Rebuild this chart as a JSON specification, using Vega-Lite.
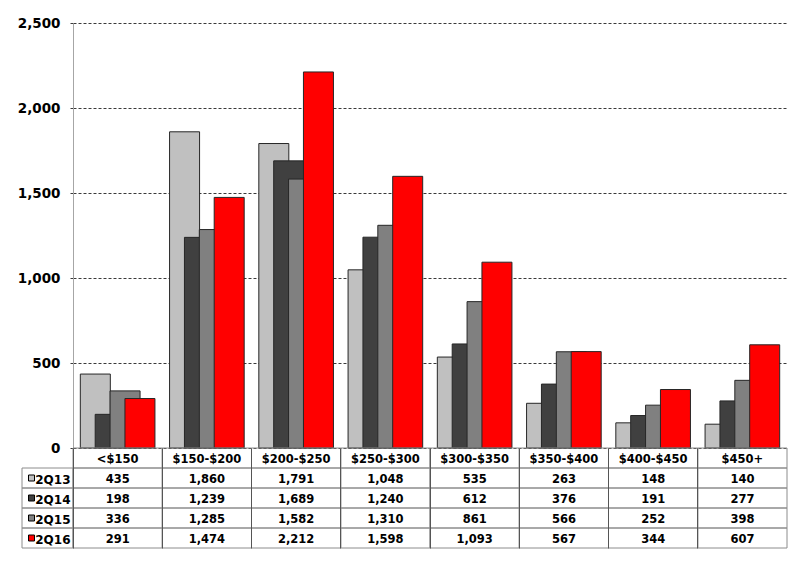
{
  "$schema": "https://vega.github.io/schema/vega-lite/v6.json",
  "padding": {"left": 17, "top": 16, "right": 14, "bottom": 16},
  "background": "white",
  "config": {
    "font": "DejaVu Sans",
    "view": {"stroke": null}
  },
  "datasets": {
    "sales": [
      {"cat": "<$150", "series": "2Q13", "value": 435},
      {"cat": "$150-$200", "series": "2Q13", "value": 1860},
      {"cat": "$200-$250", "series": "2Q13", "value": 1791},
      {"cat": "$250-$300", "series": "2Q13", "value": 1048},
      {"cat": "$300-$350", "series": "2Q13", "value": 535},
      {"cat": "$350-$400", "series": "2Q13", "value": 263},
      {"cat": "$400-$450", "series": "2Q13", "value": 148},
      {"cat": "$450+", "series": "2Q13", "value": 140},
      {"cat": "<$150", "series": "2Q14", "value": 198},
      {"cat": "$150-$200", "series": "2Q14", "value": 1239},
      {"cat": "$200-$250", "series": "2Q14", "value": 1689},
      {"cat": "$250-$300", "series": "2Q14", "value": 1240},
      {"cat": "$300-$350", "series": "2Q14", "value": 612},
      {"cat": "$350-$400", "series": "2Q14", "value": 376},
      {"cat": "$400-$450", "series": "2Q14", "value": 191},
      {"cat": "$450+", "series": "2Q14", "value": 277},
      {"cat": "<$150", "series": "2Q15", "value": 336},
      {"cat": "$150-$200", "series": "2Q15", "value": 1285},
      {"cat": "$200-$250", "series": "2Q15", "value": 1582},
      {"cat": "$250-$300", "series": "2Q15", "value": 1310},
      {"cat": "$300-$350", "series": "2Q15", "value": 861},
      {"cat": "$350-$400", "series": "2Q15", "value": 566},
      {"cat": "$400-$450", "series": "2Q15", "value": 252},
      {"cat": "$450+", "series": "2Q15", "value": 398},
      {"cat": "<$150", "series": "2Q16", "value": 291},
      {"cat": "$150-$200", "series": "2Q16", "value": 1474},
      {"cat": "$200-$250", "series": "2Q16", "value": 2212},
      {"cat": "$250-$300", "series": "2Q16", "value": 1598},
      {"cat": "$300-$350", "series": "2Q16", "value": 1093},
      {"cat": "$350-$400", "series": "2Q16", "value": 567},
      {"cat": "$400-$450", "series": "2Q16", "value": 344},
      {"cat": "$450+", "series": "2Q16", "value": 607}
    ]
  },
  "columns": 2,
  "spacing": 0,
  "bounds": "flush",
  "concat": [
    {
      "width": 51,
      "height": 425,
      "data": {"values": []},
      "mark": "point",
      "encoding": {}
    },
    {
      "width": 714,
      "height": 425,
      "data": {"name": "sales"},
      "mark": {"type": "bar", "width": 30, "stroke": "#262626", "strokeWidth": 1},
      "encoding": {
        "x": {
          "field": "cat",
          "type": "nominal",
          "scale": {
            "domain": ["<$150", "$150-$200", "$200-$250", "$250-$300", "$300-$350", "$350-$400", "$400-$450", "$450+"],
            "paddingInner": 0,
            "paddingOuter": 0
          },
          "axis": null
        },
        "xOffset": {
          "field": "series",
          "type": "nominal",
          "scale": {"domain": ["2Q13", "2Q14", "2Q15", "2Q16"], "paddingInner": 0, "paddingOuter": 1.02}
        },
        "y": {
          "field": "value",
          "type": "quantitative",
          "stack": null,
          "scale": {"domain": [0, 2500]},
          "axis": {
            "values": [0, 500, 1000, 1500, 2000, 2500],
            "format": ",d",
            "title": null,
            "grid": true,
            "gridDash": [3, 2],
            "gridColor": "#3a3a3a",
            "gridWidth": 1,
            "domainColor": "#a6a6a6",
            "tickColor": "#3a3a3a",
            "tickDash": [3, 2],
            "tickSize": 5,
            "labelFont": "DejaVu Sans",
            "labelFontWeight": "bold",
            "labelFontSize": 13.5,
            "labelColor": "black",
            "labelPadding": 8
          }
        },
        "color": {
          "field": "series",
          "type": "nominal",
          "scale": {"domain": ["2Q13", "2Q14", "2Q15", "2Q16"], "range": ["#c0c0c0", "#404040", "#808080", "#ff0000"]},
          "legend": null
        }
      }
    },
    {
      "width": 51,
      "height": 100,
      "data": {"name": "sales"},
      "transform": [{"filter": "datum.cat == '<$150'"}],
      "encoding": {
        "y": {
          "field": "series",
          "type": "nominal",
          "scale": {"type": "band", "domain": ["hdr", "2Q13", "2Q14", "2Q15", "2Q16"], "paddingInner": 0, "paddingOuter": 0},
          "axis": null
        }
      },
      "layer": [
        {"mark": {"type": "rect", "fill": null, "stroke": "#8c8c8c", "strokeWidth": 1}},
        {
          "mark": {"type": "point", "shape": "square", "filled": true, "size": 36, "stroke": "black", "strokeWidth": 1, "xOffset": -16, "opacity": 1},
          "encoding": {
            "color": {"field": "series", "type": "nominal", "legend": null}
          }
        },
        {
          "mark": {"type": "text", "align": "right", "dx": 23, "dy": 1.5, "fontSize": 12, "fontWeight": "bold", "color": "black"},
          "encoding": {"text": {"field": "series"}}
        }
      ]
    },
    {
      "width": 714,
      "height": 100,
      "data": {"name": "sales"},
      "encoding": {
        "x": {
          "field": "cat",
          "type": "nominal",
          "scale": {
            "domain": ["<$150", "$150-$200", "$200-$250", "$250-$300", "$300-$350", "$350-$400", "$400-$450", "$450+"],
            "paddingInner": 0,
            "paddingOuter": 0
          },
          "axis": {
            "grid": true,
            "bandPosition": 0,
            "gridColor": "#555555",
            "gridWidth": 1,
            "domain": false,
            "ticks": false,
            "labels": false,
            "title": null
          }
        }
      },
      "layer": [
        {
          "mark": {"type": "rect", "fill": null, "stroke": "#8c8c8c", "strokeWidth": 1},
          "encoding": {
            "y": {
              "field": "series",
              "type": "nominal",
              "scale": {"type": "band", "domain": ["hdr", "2Q13", "2Q14", "2Q15", "2Q16"], "paddingInner": 0, "paddingOuter": 0},
              "axis": null
            }
          }
        },
        {
          "transform": [{"filter": "datum.series == '2Q13'"}],
          "mark": {"type": "rect", "fill": null, "stroke": "#8c8c8c", "strokeWidth": 1},
          "encoding": {
            "y": {"datum": "hdr", "type": "nominal"}
          }
        },
        {
          "mark": {"type": "text", "dy": 1.5, "fontSize": 11.5, "fontWeight": "bold", "color": "black"},
          "encoding": {
            "y": {"field": "series", "type": "nominal"},
            "text": {"field": "value", "type": "quantitative", "format": ","}
          }
        },
        {
          "transform": [{"filter": "datum.series == '2Q13'"}],
          "mark": {"type": "text", "dy": 2, "fontSize": 11.5, "fontWeight": "bold", "color": "black"},
          "encoding": {
            "y": {"datum": "hdr", "type": "nominal"},
            "text": {"field": "cat"}
          }
        }
      ]
    }
  ]
}
